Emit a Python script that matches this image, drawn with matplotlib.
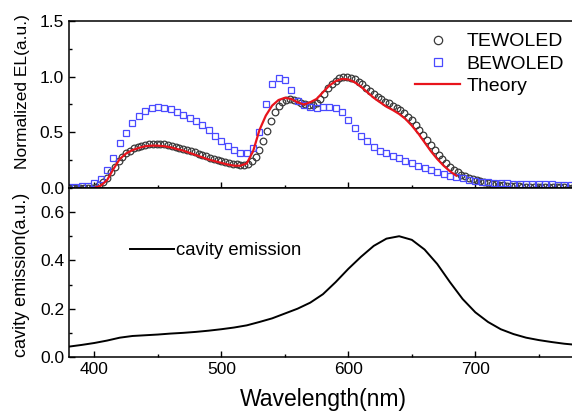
import matplotlib
matplotlib.use("Agg")
import matplotlib.pyplot as plt
import numpy as np
from matplotlib.ticker import MultipleLocator

plt.rcParams["font.family"] = ["Liberation Sans", "DejaVu Sans"]

# TEWOLED spectrum, 3 nm steps starting at 380 nm
tewoled = [
    0.0, 0.0, 0.0, 0.0, 0.0, 0.0, 0.003, 0.01, 0.025, 0.05,
    0.09, 0.14, 0.19, 0.24, 0.28, 0.31, 0.335, 0.355, 0.37, 0.38,
    0.388, 0.393, 0.395, 0.396, 0.395, 0.392, 0.386, 0.378, 0.368, 0.358,
    0.35, 0.341, 0.331, 0.32, 0.308, 0.296, 0.284, 0.272, 0.262, 0.253,
    0.244, 0.235, 0.226, 0.218, 0.212, 0.209, 0.21, 0.218, 0.24, 0.28,
    0.34, 0.42, 0.51, 0.6, 0.68, 0.74, 0.775, 0.79, 0.795, 0.79,
    0.778, 0.762, 0.75, 0.742, 0.745, 0.76, 0.795, 0.845, 0.895, 0.935,
    0.965, 0.99, 1.0, 1.0, 0.99, 0.975, 0.955, 0.93, 0.9, 0.87,
    0.84, 0.815, 0.795, 0.775, 0.76, 0.74, 0.72, 0.7, 0.67, 0.64,
    0.61, 0.57, 0.525, 0.475, 0.43, 0.385, 0.34, 0.3, 0.26, 0.22,
    0.19, 0.165, 0.14, 0.12, 0.105, 0.09, 0.078, 0.067, 0.058, 0.05,
    0.043, 0.037, 0.032, 0.027, 0.023, 0.02, 0.017, 0.015, 0.013, 0.011,
    0.01, 0.009, 0.008, 0.007, 0.006, 0.006, 0.005, 0.005, 0.004, 0.004,
    0.004, 0.003, 0.003, 0.003,
]
wl_te = np.arange(380, 380 + 3 * len(tewoled), 3)

# BEWOLED spectrum, 5 nm steps starting at 380 nm
bewoled = [
    0.01, 0.012, 0.015, 0.02, 0.04, 0.08, 0.16, 0.27, 0.40, 0.49,
    0.58, 0.65, 0.69, 0.715, 0.725, 0.72, 0.71, 0.685, 0.66, 0.63,
    0.6, 0.565, 0.52, 0.47, 0.42, 0.38, 0.34, 0.315, 0.31, 0.36,
    0.5, 0.75, 0.93, 0.99, 0.97, 0.88, 0.78, 0.745, 0.725, 0.72,
    0.725, 0.73, 0.72, 0.68, 0.61, 0.54, 0.47, 0.42, 0.37, 0.335,
    0.31, 0.29, 0.27, 0.245, 0.22, 0.2, 0.18, 0.16, 0.14, 0.125,
    0.11, 0.1, 0.09, 0.075, 0.065, 0.055, 0.05, 0.045, 0.042, 0.04,
    0.038, 0.036, 0.035, 0.034, 0.033, 0.032, 0.031, 0.03, 0.03, 0.03,
    0.03,
]
wl_be = np.arange(380, 380 + 5 * len(bewoled), 5)

# simulated spectrum, 5 nm steps from 400 nm
theory = [
    0.0, 0.02, 0.07, 0.17, 0.26, 0.31, 0.34, 0.36, 0.375, 0.38,
    0.38, 0.375, 0.365, 0.35, 0.335, 0.315, 0.295, 0.275, 0.255, 0.24,
    0.225, 0.21, 0.2, 0.2, 0.22, 0.33, 0.52, 0.65, 0.74, 0.79,
    0.81, 0.8, 0.77, 0.75, 0.77, 0.8, 0.86, 0.92, 0.96, 0.98,
    0.975, 0.95, 0.91, 0.86, 0.81, 0.77, 0.73, 0.7, 0.665, 0.62,
    0.56, 0.49, 0.41, 0.33, 0.26, 0.2, 0.15, 0.11,
]
wl_th = np.arange(400, 400 + 5 * len(theory), 5)

# cavity emission, 10 nm steps from 380 nm
cavity = [
    0.043, 0.05, 0.058, 0.068, 0.08, 0.087, 0.09, 0.093, 0.097, 0.1,
    0.104, 0.109, 0.115, 0.122, 0.131, 0.145, 0.16, 0.18, 0.2, 0.225,
    0.26, 0.31, 0.365, 0.415, 0.46, 0.49, 0.5, 0.485, 0.445, 0.385,
    0.31, 0.24, 0.185, 0.145, 0.115, 0.095, 0.08, 0.07, 0.062, 0.055,
    0.05,
]
wl_cav = np.arange(380, 380 + 10 * len(cavity), 10)

fig = plt.figure(figsize=(5.72, 4.13), dpi=100)
ax1 = fig.add_axes([0.1206, 0.545, 0.888, 0.404])
ax2 = fig.add_axes([0.1206, 0.1356, 0.888, 0.4094], sharex=ax1)

ax1.plot(wl_te, tewoled, "o", ms=4.8, mfc="none", mec="#3a3a3a", mew=0.9,
         label="TEWOLED")
ax1.plot(wl_be, bewoled, "s", ms=4.4, mfc="none", mec="#4a4aff", mew=0.9,
         label="BEWOLED")
ax1.plot(wl_th, theory, "-", color="#e8141c", lw=1.6, label="Theory")
ax1.set_ylim(0, 1.5)
ax1.yaxis.set_major_locator(MultipleLocator(0.5))
ax1.yaxis.set_minor_locator(MultipleLocator(0.25))
ax1.set_ylabel("Normalized EL(a.u.)", fontsize=12.5)
ax1.tick_params(labelbottom=False)
ax1.legend(loc="upper right", bbox_to_anchor=(0.975, 0.93), frameon=False,
           fontsize=14, handlelength=2.3, handletextpad=0.35,
           labelspacing=0.25, borderpad=0, borderaxespad=0, markerscale=1.25)

ax2.plot(wl_cav, cavity, "-", color="black", lw=1.4, label="cavity emission")
ax2.set_ylim(0, 0.7)
ax2.yaxis.set_major_locator(MultipleLocator(0.2))
ax2.yaxis.set_minor_locator(MultipleLocator(0.1))
ax2.set_xlim(380, 780)
ax2.xaxis.set_major_locator(MultipleLocator(100))
ax2.xaxis.set_minor_locator(MultipleLocator(50))
ax2.set_xlabel("Wavelength(nm)", fontsize=16.5, labelpad=8)
ax2.set_ylabel("cavity emission(a.u.)", fontsize=13)
ax2.legend(loc="center left", bbox_to_anchor=(0.12, 0.627), frameon=False,
           fontsize=13.3, handlelength=2.4, handletextpad=0.1, borderpad=0,
           borderaxespad=0)

for ax in (ax1, ax2):
    ax.tick_params(which="both", direction="in", right=False, top=False,
                   labelsize=12.5, width=1)
    ax.tick_params(which="major", length=4)
    ax.tick_params(which="minor", length=2.5)
    for sp in ax.spines.values():
        sp.set_linewidth(1.1)
    ax.spines["right"].set_visible(False)

# the two y labels sit a little off their axes' centres
ax1.yaxis.set_label_coords(-0.077, 0.575)
ax2.yaxis.set_label_coords(-0.077, 0.485)

fig.savefig("out.png", dpi=100)
